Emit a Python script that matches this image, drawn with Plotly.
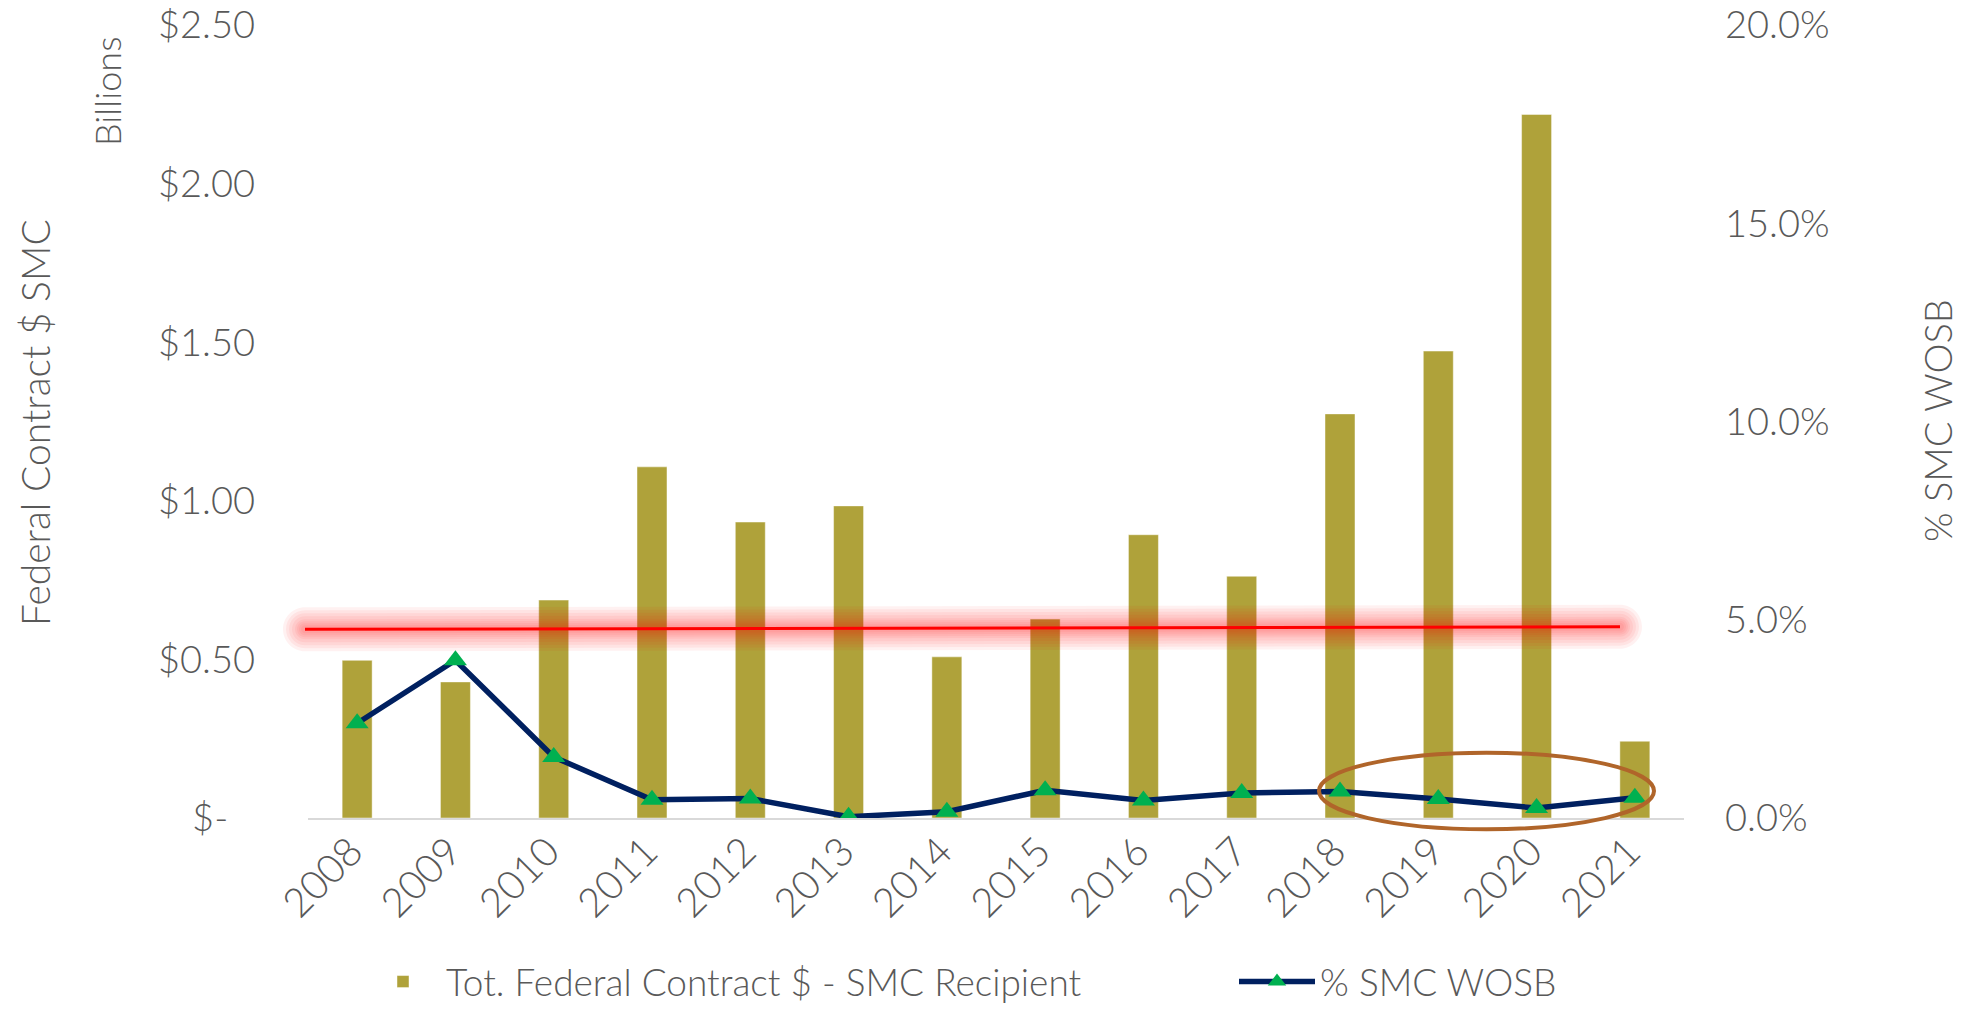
import plotly.graph_objects as go

years = ["2008", "2009", "2010", "2011", "2012", "2013", "2014",
         "2015", "2016", "2017", "2018", "2019", "2020", "2021"]
contract_billions = [0.497, 0.429, 0.687, 1.107, 0.933, 0.984, 0.508,
                     0.627, 0.893, 0.762, 1.274, 1.472, 2.218, 0.242]
pct_wosb = [2.39, 3.98, 1.54, 0.46, 0.49, 0.03, 0.16,
            0.70, 0.44, 0.63, 0.67, 0.48, 0.25, 0.51]

left_tickvals = [0, 0.5, 1.0, 1.5, 2.0, 2.5]
left_ticktext = ["$-\u2007\u2009", "$0.50", "$1.00", "$1.50", "$2.00", "$2.50"]
right_tickvals = [0, 5, 10, 15, 20]
right_ticktext = ["0.0%", "5.0%", "10.0%", "15.0%", "20.0%"]

FONT = "Lato"
GREY = "#595959"

fig = go.Figure()
fig.add_trace(go.Bar(
    x=years, y=contract_billions, name="Tot. Federal Contract $ - SMC Recipient",
    marker=dict(color="#AFA23A", line=dict(color="rgba(255,255,255,0.45)", width=1)),
    yaxis="y", legendwidth=783,
))
fig.add_trace(go.Scatter(
    x=years, y=pct_wosb, name="% SMC WOSB", yaxis="y2",
    mode="lines+markers",
    line=dict(color="#002060", width=5.5),
    marker=dict(symbol="triangle-up", size=20, color="#00B050", line=dict(width=0)),
    legendwidth=300,
))

# page body has an 8px margin -> figure sized to fit the window exactly
OFF = 8
W, H = 1972 - 2 * OFF, 1011 - 2 * OFF
DL, DR, DT, DB = 308, 1684, 25, 818          # plot domain in picture pixels
pw, ph = DR - DL, DB - DT
L, R, T, B = DL - OFF, W - (DR - OFF), DT - OFF, H - (DB - OFF)


def px_x(x):
    return (x - DL) / pw


def px_y(y):
    return (DB - y) / ph


shapes = []
# glowing red reference line (stadium shaped soft layers)
xl, xr = 305, 1620
yl, yr = 629.3, 626.7
for h in [22, 19, 16, 13, 10, 8, 6, 4]:
    k = 0.5523 * h
    path = (
        f"M {px_x(xl)},{px_y(yl - h)} L {px_x(xr)},{px_y(yr - h)} "
        f"C {px_x(xr + k)},{px_y(yr - h)} {px_x(xr + h)},{px_y(yr - k)} {px_x(xr + h)},{px_y(yr)} "
        f"C {px_x(xr + h)},{px_y(yr + k)} {px_x(xr + k)},{px_y(yr + h)} {px_x(xr)},{px_y(yr + h)} "
        f"L {px_x(xl)},{px_y(yl + h)} "
        f"C {px_x(xl - k)},{px_y(yl + h)} {px_x(xl - h)},{px_y(yl + k)} {px_x(xl - h)},{px_y(yl)} "
        f"C {px_x(xl - h)},{px_y(yl - k)} {px_x(xl - k)},{px_y(yl - h)} {px_x(xl)},{px_y(yl - h)} Z"
    )
    shapes.append(dict(type="path", xref="paper", yref="paper", path=path,
                       fillcolor="rgba(255,0,0,0.055)", line=dict(width=0), layer="above"))
shapes.append(dict(type="line", xref="paper", yref="paper",
                   x0=px_x(xl), y0=px_y(yl), x1=px_x(xr), y1=px_y(yr),
                   line=dict(color="#FF0000", width=3), layer="above"))
# highlight ellipse
shapes.append(dict(type="circle", xref="paper", yref="paper",
                   x0=px_x(1319), x1=px_x(1654), y0=px_y(829.3), y1=px_y(752.7),
                   line=dict(color="#B0652A", width=4), layer="above"))

annotations = [
    dict(text="Federal Contract $ SMC", xref="paper", yref="paper",
         x=px_x(35), y=px_y(423), xanchor="center", yanchor="middle", textangle=-90,
         showarrow=False, font=dict(family=FONT, size=39, color=GREY, weight=300)),
    dict(text="Billions", xref="paper", yref="paper",
         x=px_x(107), y=px_y(92), xanchor="center", yanchor="middle", textangle=-90,
         showarrow=False, font=dict(family=FONT, size=36, color=GREY, weight=300)),
    dict(text="% SMC WOSB", xref="paper", yref="paper",
         x=px_x(1937), y=px_y(421), xanchor="center", yanchor="middle", textangle=-90,
         showarrow=False, font=dict(family=FONT, size=38, color=GREY, weight=300)),
]

fig.update_layout(
    width=W, height=H,
    margin=dict(l=L, r=R, t=T, b=B, autoexpand=False),
    paper_bgcolor="white", plot_bgcolor="white",
    bargap=0.695,
    font=dict(family=FONT, color=GREY, weight=300),
    xaxis=dict(
        range=[-0.5, len(years) - 0.5],
        showgrid=False, zeroline=False, showline=True, linecolor="#D9D9D9", linewidth=2,
        ticks="", tickangle=-45, tickfont=dict(family=FONT, size=40, color=GREY, weight=300),
        ticklabelstandoff=-8, ticklabelshift=-6, automargin=False, ticklabeloverflow="allow",
    ),
    yaxis=dict(
        range=[0, 2.5], tickvals=left_tickvals, ticktext=left_ticktext,
        showgrid=False, zeroline=False, showline=False, ticks="",
        tickfont=dict(family=FONT, size=38, color=GREY, weight=300),
        ticklabelstandoff=52, automargin=False, ticklabeloverflow="allow",
    ),
    yaxis2=dict(
        range=[0, 20], tickvals=right_tickvals, ticktext=right_ticktext,
        overlaying="y", side="right",
        showgrid=False, zeroline=False, showline=False, ticks="",
        tickfont=dict(family=FONT, size=38, color=GREY, weight=300),
        ticklabelstandoff=40, automargin=False, ticklabeloverflow="allow",
    ),
    legend=dict(
        orientation="h", x=px_x(360), xanchor="left", y=px_y(982), yanchor="middle",
        font=dict(family=FONT, size=37, color=GREY, weight=300),
        itemwidth=76, bgcolor="rgba(0,0,0,0)",
    ),
    shapes=shapes,
    annotations=annotations,
)

fig.write_html("out.html")
